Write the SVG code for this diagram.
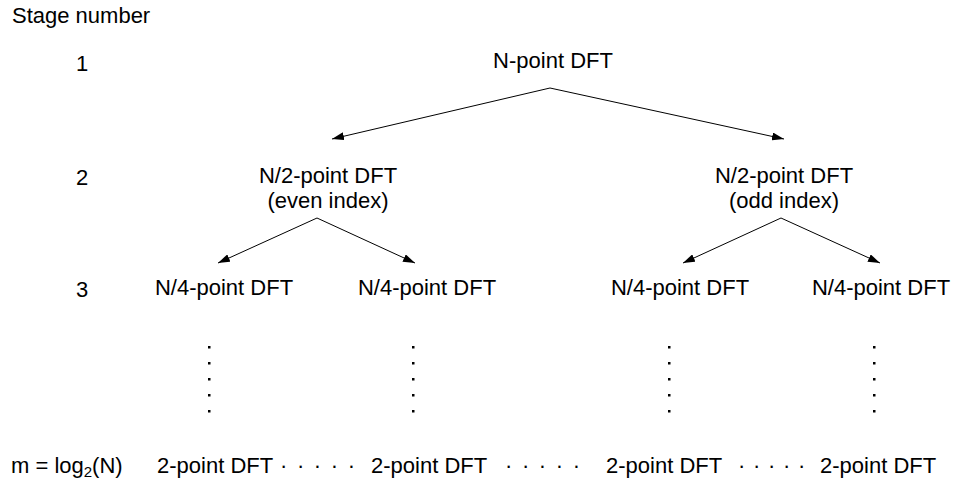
<svg xmlns="http://www.w3.org/2000/svg" width="957" height="484" viewBox="0 0 957 484">
  <style>
    text { font-family: "Liberation Sans", Arial, sans-serif; font-size: 22px; fill: #000; }
    .c { text-anchor: middle; }
    .edge { stroke: #000; stroke-width: 1; fill: none; marker-end: url(#arrow); }
    .dot { fill: #000; }
    .hdots { letter-spacing: 9.6px; }
  </style>
  <defs>
    <marker id="arrow" viewBox="0 0 12 8" refX="12" refY="4" markerWidth="12" markerHeight="8" markerUnits="userSpaceOnUse" orient="auto">
      <path d="M0,0 L12,4 L0,8 Z" fill="#000"/>
    </marker>
    <!-- one column of vertical ellipsis dots -->
    <g id="vcol">
      <rect class="dot" x="0" y="346" width="2.5" height="2.5"/>
      <rect class="dot" x="0" y="362" width="2.5" height="2.5"/>
      <rect class="dot" x="0" y="378" width="2.5" height="2.5"/>
      <rect class="dot" x="0" y="394" width="2.5" height="2.5"/>
      <rect class="dot" x="0" y="410" width="2.5" height="2.5"/>
    </g>
  </defs>

  <!-- stage labels -->
  <g id="stage-labels">
    <text x="12" y="23">Stage number</text>
    <text x="76" y="71">1</text>
    <text x="76" y="185">2</text>
    <text x="76" y="297">3</text>
    <text x="11" y="473">m = log<tspan font-size="15" dy="4">2</tspan><tspan dy="-4">(N)</tspan></text>
  </g>

  <!-- connectors -->
  <g id="connectors">
    <line class="edge" x1="550" y1="88" x2="332" y2="139"/>
    <line class="edge" x1="550" y1="88" x2="784" y2="139"/>
    <line class="edge" x1="317" y1="218" x2="218" y2="263"/>
    <line class="edge" x1="317" y1="218" x2="415" y2="263"/>
    <line class="edge" x1="781" y1="218" x2="683" y2="263"/>
    <line class="edge" x1="781" y1="218" x2="880" y2="263"/>
  </g>

  <!-- nodes -->
  <g id="n-point">
    <text class="c" x="553" y="68">N-point DFT</text>
  </g>
  <g id="n2-even">
    <text class="c" x="328" y="183">N/2-point DFT</text>
    <text class="c" x="328" y="208">(even index)</text>
  </g>
  <g id="n2-odd">
    <text class="c" x="784" y="183">N/2-point DFT</text>
    <text class="c" x="784" y="208">(odd index)</text>
  </g>
  <g id="n4-a"><text class="c" x="224" y="295">N/4-point DFT</text></g>
  <g id="n4-b"><text class="c" x="427" y="295">N/4-point DFT</text></g>
  <g id="n4-c"><text class="c" x="680" y="295">N/4-point DFT</text></g>
  <g id="n4-d"><text class="c" x="881" y="295">N/4-point DFT</text></g>

  <!-- vertical ellipsis columns -->
  <g id="vdots">
    <use href="#vcol" x="208"/>
    <use href="#vcol" x="412"/>
    <use href="#vcol" x="668"/>
    <use href="#vcol" x="873"/>
  </g>

  <!-- final stage row -->
  <g id="two-point-a"><text x="157" y="473">2-point DFT</text></g>
  <text class="hdots" x="280" y="473">·····</text>
  <g id="two-point-b"><text x="371" y="473">2-point DFT</text></g>
  <text class="hdots" x="505" y="473">·····</text>
  <g id="two-point-c"><text x="606" y="473">2-point DFT</text></g>
  <text x="738" y="473" style="letter-spacing:7.7px">·····</text>
  <g id="two-point-d"><text x="820" y="473">2-point DFT</text></g>
</svg>
